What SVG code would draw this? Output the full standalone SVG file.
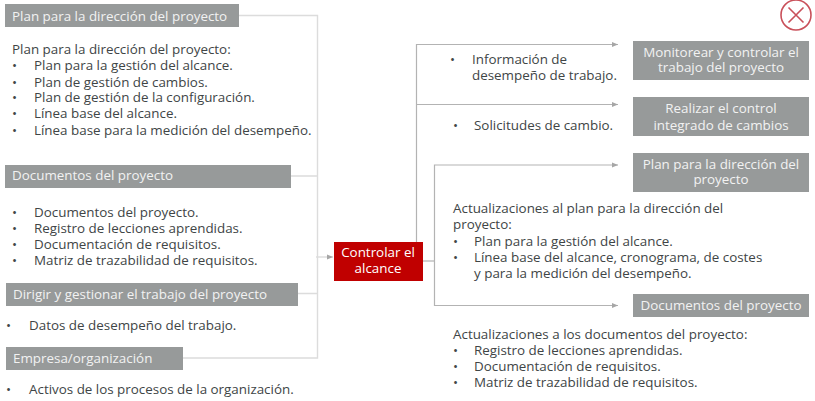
<svg xmlns="http://www.w3.org/2000/svg" width="815" height="401" viewBox="0 0 815 401">
<style>
text{font-family:"Open Sans","Noto Sans",sans-serif;font-size:13.4px;fill:#404546}
.h{fill:#f2f2f2}
.w{fill:#fff}
.m{text-anchor:middle}
.box{fill:#979a9a}
.lg{fill:none;stroke:#dcdcdc;stroke-width:1.4}
.ld{fill:none;stroke:#b3b3b3;stroke-width:1.2}
</style>
<defs><marker id="a" markerWidth="7" markerHeight="6" refX="6" refY="3" orient="auto" markerUnits="userSpaceOnUse"><path d="M0 .5L6 3L0 5.500Z" fill="#a6a6a6"/></marker></defs>
<rect width="815" height="401" fill="#fff"/>
<g id="connectors">
<path class="lg" d="M239 15.500H317.500V358H183"/>
<path class="lg" d="M291 176H317.500M298 293.500H317.500"/>
<path class="lg" d="M316 257H333" marker-end="url(#a)"/>
<path class="ld" d="M416.500 242V44.500H618" marker-end="url(#a)"/>
<path class="ld" d="M416.500 104.500H618" marker-end="url(#a)"/>
<path class="ld" d="M423 261H434.500"/>
<path class="ld" d="M434.500 261V165H618" marker-end="url(#a)"/>
<path class="ld" d="M434.500 261V305.500H618" marker-end="url(#a)"/>
</g>
<g id="plan-in"><rect class="box" x="5" y="4" width="234" height="23"/><text class="h" x="12" y="21">Plan para la dirección del proyecto</text></g>
<g id="plan-in-text">
<text x="12" y="54">Plan para la dirección del proyecto:</text>
<text x="12" y="70">•</text><text x="34" y="70">Plan para la gestión del alcance.</text>
<text x="12" y="87">•</text><text x="34" y="87">Plan de gestión de cambios.</text>
<text x="12" y="102">•</text><text x="34" y="102">Plan de gestión de la configuración.</text>
<text x="12" y="118">•</text><text x="34" y="118">Línea base del alcance.</text>
<text x="12" y="135">•</text><text x="34" y="135">Línea base para la medición del desempeño.</text>
</g>
<g id="docs-in"><rect class="box" x="5" y="165" width="286" height="23"/><text class="h" x="12" y="180">Documentos del proyecto</text></g>
<g id="docs-in-text">
<text x="12" y="217">•</text><text x="34" y="217">Documentos del proyecto.</text>
<text x="12" y="233">•</text><text x="34" y="233">Registro de lecciones aprendidas.</text>
<text x="12" y="249">•</text><text x="34" y="249">Documentación de requisitos.</text>
<text x="12" y="265">•</text><text x="34" y="265">Matriz de trazabilidad de requisitos.</text>
</g>
<g id="dirigir"><rect class="box" x="6" y="283" width="292" height="23"/><text class="h" x="13" y="299">Dirigir y gestionar el trabajo del proyecto</text></g>
<g id="dirigir-text"><text x="6" y="330">•</text><text x="29" y="330">Datos de desempeño del trabajo.</text></g>
<g id="empresa"><rect class="box" x="6" y="347" width="177" height="23"/><text class="h" x="13" y="363">Empresa/organización</text></g>
<g id="empresa-text"><text x="6" y="394">•</text><text x="29" y="394">Activos de los procesos de la organización.</text></g>
<g id="controlar"><rect x="334" y="242" width="89" height="39" fill="#c00000"/><text class="w m" x="378" y="257">Controlar el</text><text class="w m" x="378" y="273">alcance</text></g>
<g id="close"><circle cx="796" cy="15" r="15" fill="#fff" stroke="#c9505a" stroke-width="1.6"/><path d="M788.500 7.500L803.500 22.500M803.500 7.500L788.500 22.500" stroke="#c9505a" stroke-width="1.6" fill="none"/></g>
<g id="info-text"><text x="450" y="64">•</text><text x="472" y="64">Información de</text><text x="472" y="80">desempeño de trabajo.</text></g>
<g id="solic-text"><text x="453" y="130">•</text><text x="474" y="130">Solicitudes de cambio.</text></g>
<g id="monitorear"><rect class="box" x="633" y="41" width="176" height="39"/><text class="h m" x="721" y="57">Monitorear y controlar el</text><text class="h m" x="721" y="72">trabajo del proyecto</text></g>
<g id="realizar"><rect class="box" x="633" y="97" width="176" height="39"/><text class="h m" x="721" y="113">Realizar el control</text><text class="h m" x="721" y="130">integrado de cambios</text></g>
<g id="plan-out"><rect class="box" x="633" y="153" width="176" height="39"/><text class="h m" x="721" y="169">Plan para la dirección del</text><text class="h m" x="721" y="184">proyecto</text></g>
<g id="plan-out-text">
<text x="453" y="213">Actualizaciones al plan para la dirección del</text>
<text x="453" y="229">proyecto:</text>
<text x="453" y="246">•</text><text x="474" y="246">Plan para la gestión del alcance.</text>
<text x="453" y="262">•</text><text x="474" y="262">Línea base del alcance, cronograma, de costes</text>
<text x="474" y="278">y para la medición del desempeño.</text>
</g>
<g id="docs-out"><rect class="box" x="633" y="294" width="176" height="23"/><text class="h m" x="721" y="310">Documentos del proyecto</text></g>
<g id="docs-out-text">
<text x="453" y="339">Actualizaciones a los documentos del proyecto:</text>
<text x="453" y="355">•</text><text x="474" y="355">Registro de lecciones aprendidas.</text>
<text x="453" y="371">•</text><text x="474" y="371">Documentación de requisitos.</text>
<text x="453" y="387">•</text><text x="474" y="387">Matriz de trazabilidad de requisitos.</text>
</g>
</svg>
